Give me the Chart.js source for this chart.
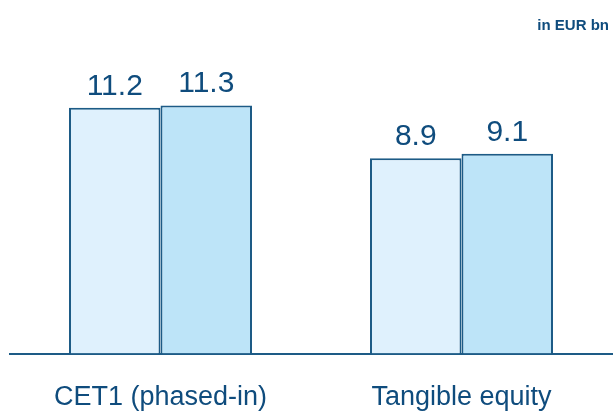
<!DOCTYPE html>
<html>
<head>
<meta charset="utf-8">
<script src="https://cdn.jsdelivr.net/npm/chart.js@4"></script>
<style>
  html, body { margin: 0; padding: 0; background: #ffffff; }
  #wrap { width: 614px; height: 414px; position: relative; }
</style>
</head>
<body>
<div id="wrap"><canvas id="c" width="614" height="414"></canvas></div>
<script>
const categories = ["CET1 (phased-in)", "Tangible equity"];
const seriesA = [11.2, 8.9];
const seriesB = [11.3, 9.1];
const unitNote = "in EUR bn";

const textColor = "#0f4c7d";
const borderColor = "#1d5b86";

const valueLabels = {
  id: "valueLabels",
  afterDatasetsDraw(chart) {
    const ctx = chart.ctx;
    ctx.save();
    ctx.font = "30px 'Liberation Sans', Arial, sans-serif";
    ctx.fillStyle = textColor;
    ctx.textAlign = "center";
    ctx.textBaseline = "alphabetic";
    chart.data.datasets.forEach((ds, i) => {
      chart.getDatasetMeta(i).data.forEach((bar, j) => {
        ctx.fillText(ds.data[j].toFixed(1), bar.x, bar.y - 13);
      });
    });
    ctx.restore();
  }
};

const unitLabel = {
  id: "unitLabel",
  afterDraw(chart) {
    const ctx = chart.ctx;
    ctx.save();
    ctx.font = "bold 15px 'Liberation Sans', Arial, sans-serif";
    ctx.fillStyle = textColor;
    ctx.textAlign = "right";
    ctx.textBaseline = "alphabetic";
    ctx.fillText(unitNote, 609, 30);
    ctx.restore();
  }
};

new Chart(document.getElementById("c"), {
  type: "bar",
  data: {
    labels: categories,
    datasets: [
      { data: seriesA, backgroundColor: "#dff1fd", borderColor: borderColor, borderWidth: 2 },
      { data: seriesB, backgroundColor: "#bde4f8", borderColor: borderColor, borderWidth: 2 }
    ]
  },
  options: {
    responsive: false,
    animation: false,
    devicePixelRatio: 1,
    layout: { padding: { top: 40, left: 10, right: 2, bottom: -28 } },
    plugins: { legend: { display: false }, tooltip: { enabled: false } },
    datasets: { bar: { barPercentage: 1, categoryPercentage: 0.608 } },
    scales: {
      x: {
        grid: { display: false, drawTicks: false, tickLength: 0 },
        border: { display: true, color: borderColor, width: 2 },
        ticks: {
          color: textColor,
          padding: 28,
          font: { family: "'Liberation Sans', Arial, sans-serif", size: 27 }
        }
      },
      y: {
        display: false,
        min: 0,
        max: 14.28
      }
    }
  },
  plugins: [valueLabels, unitLabel]
});
</script>
</body>
</html>
